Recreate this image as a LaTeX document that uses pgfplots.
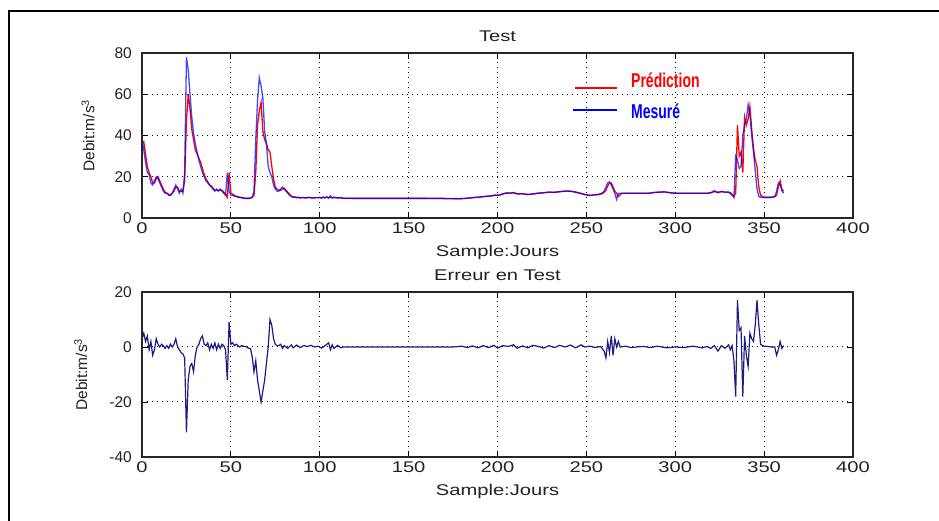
\documentclass[border=0pt]{standalone}
\usepackage{fontspec}
\setmainfont{Liberation Sans}
\newfontfamily\wfont{Liberation Sans}[FakeStretch=1.3]
\newfontfamily\legfont{Liberation Sans}[FakeStretch=0.7]
\usepackage{pgfplots}
\pgfplotsset{compat=1.18}
\definecolor{txt}{HTML}{222222}
\definecolor{errc}{HTML}{1C1C82}

\pgfplotsset{matstyle/.style={
  scale only axis, width=711pt, height=165pt,
  xmin=0, xmax=400, xtick={0,50,...,400},
  tick align=inside, major tick length=6pt,
  xtick pos=both, ytick pos=both, xticklabel pos=bottom, yticklabel pos=left,
  axis line style={line width=1.1pt, black!85},
  tick style={line width=0.9pt, black},
  grid=major, grid style={black, line width=1pt, dash pattern=on 1pt off 4pt},
  /pgf/number format/assume math mode=true,
  xticklabel style={font=\wfont\fontsize{15.5}{18}\selectfont, anchor=base, yshift=-15.5pt, text=txt},
  yticklabel style={font=\fontsize{15.5}{18}\selectfont, anchor=east, inner sep=0pt, xshift=-10pt, text=txt},
  title style={font=\wfont\fontsize{15.5}{18}\selectfont, at={(0.5,1)}, anchor=base, yshift=5.5pt, text=txt},
  xlabel style={font=\wfont\fontsize{15.5}{18}\selectfont, at={(axis description cs:0.5,0)}, anchor=base, yshift=-39pt, text=txt},
  ylabel style={font=\fontsize{15.5}{18}\selectfont, anchor=center, text=txt},
}}

\begin{document}
\begin{tikzpicture}
\useasboundingbox (0,0) rectangle (939pt,521pt);
\draw[line width=2.2pt, black] (9pt,0pt) -- (9pt,510pt) -- (939pt,510pt);

% upper panel: prediction vs measured
\begin{axis}[matstyle, at={(142pt,303pt)}, anchor=south west,
  ymin=0, ymax=80, ytick={0,20,...,80},
  title={Test}, xlabel={Sample:Jours}, ylabel={Debit:m/s\textsuperscript{3}},
  ylabel style={at={(axis description cs:-0.076,0.5)}}]
\addplot[red, line width=1.3pt] coordinates {
(0,36) (1,37) (2,31) (3,25) (4,22) (5,20) (6,17) (7,17) (8,19) (9,20) (10,18) (11,16) (12,14) (13,12.5) (14,12) (15,11.5) (16,11) (17,12) (18,13) (19,15) (20,15) (21,13) (22,13) (23,13) (24,18) (25,47) (26,60) (27,53) (28,43) (29,38) (30,33) (31,31) (32,29) (33,27) (34,24) (35,21) (36,19) (37,17.5) (38,16) (39,15.5) (40,14.5) (41,13.5) (42,13.5) (43,13.5) (44,13.5) (45,13.5) (46,12.5) (47,11.5) (48,10) (49,22) (50,12) (51,11.5) (52,11) (53,10.5) (54,10.3) (55,10) (56,10) (57,9.8) (58,9.6) (59,9.5) (60,9.5) (61,9.6) (62,10) (63,11) (64,22) (65,45) (66,52) (67,56) (68,42) (69,38) (70,36) (71,33) (72,32) (73,25) (74,19) (75,15) (76,14) (77,13.5) (78,13.5) (79,14) (80,14.5) (81,13.5) (82,12.5) (83,11.5) (84,10.5) (85,10.2) (86,10) (88,10) (90,9.8) (94,9.9) (98,9.8) (102,9.9) (106,10) (110,9.8) (113,9.6) (120,9.5) (130,9.5) (140,9.5) (150,9.5) (160,9.5) (170,9.5) (175,9.4) (180,9.4) (184,9.6) (187,9.9) (190,10.1) (193,10.4) (196,10.6) (199,11) (201,11.1) (203,11.6) (205,12) (207,12.1) (209,12.2) (211,11.8) (214,11.7) (217,11.5) (220,11.6) (223,12) (226,12.2) (229,12.5) (232,12.5) (235,12.7) (238,13) (241,13) (243,12.8) (246,12.2) (249,11.5) (252,11) (255,11.2) (257,11.3) (259,11.8) (260,12.5) (261,13.5) (262,15.5) (263,17) (264,17) (265,15) (266,13) (267,12) (268,10.5) (270,12) (280,12) (285,12) (288,12.3) (291,12.5) (294,12.6) (297,12.3) (300,12) (310,12) (318,12) (320,12.2) (322,12.8) (324,12.5) (326,12.7) (328,12.6) (330,12.5) (331,12.3) (332,11.5) (333,10.5) (334,12) (335,45) (336,30) (337,32) (338,22) (339,49) (340,45) (341,48) (342,54) (343,43) (344,34) (345,28) (346,25) (347,15) (348,11) (350,10) (352,10) (354,10) (356,10.3) (357,11) (358,15) (359,18) (360,14) (361,13)};
\addplot[blue, line width=1.3pt, opacity=0.72] coordinates {
(0,38) (1,33) (2,27) (3,22) (4,21) (5,17) (6,16) (7,18) (8,20) (9,19) (10,17) (11,15) (12,13) (13,12) (14,12) (15,11) (16,11) (17,12) (18,14) (19,16) (20,14) (21,12) (22,14) (23,12) (24,22) (25,78) (26,72) (27,60) (28,49) (29,41) (30,36) (31,32) (32,28) (33,25) (34,22) (35,20) (36,18) (37,17) (38,16) (39,15) (40,14) (41,13) (42,14) (43,13) (44,14) (45,13) (46,12) (47,11) (48,22) (49,13) (50,11) (51,11) (52,10.5) (53,10.5) (54,10) (55,10) (56,9.8) (57,9.5) (58,9.5) (59,9.5) (60,9.5) (61,9.8) (62,10) (63,13) (64,38) (65,57) (66,68) (67,64) (68,58) (69,42) (70,36) (71,25) (72,22) (73,20) (74,16) (75,14) (76,13) (77,13) (78,14) (79,15) (80,14) (81,13) (82,12) (83,11) (84,10.5) (85,10) (86,10.3) (87,9.8) (88,10) (89,9.6) (90,10) (92,9.7) (94,10) (96,9.6) (98,9.9) (100,10) (101,9.6) (102,10.2) (103,9.7) (104,10.4) (105,9.5) (106,10.8) (107,9.6) (108,10.1) (110,9.7) (112,10) (113,9.5) (120,9.5) (130,9.5) (140,9.5) (150,9.5) (160,9.5) (170,9.4) (175,9.3) (180,9.4) (184,9.7) (187,10) (190,10.2) (193,10.5) (196,10.7) (199,11.2) (201,11) (203,11.8) (205,12.2) (207,12) (209,12.4) (211,11.6) (214,11.8) (217,11.3) (220,11.7) (223,12.1) (226,12.3) (229,12.6) (232,12.4) (235,12.8) (238,13.1) (241,13) (243,12.6) (246,12) (249,11.3) (252,10.9) (255,11.3) (257,11.5) (259,12.2) (260,13) (261,15) (262,17) (263,17.5) (264,16) (265,14) (266,12) (267,9) (268,12) (270,12) (280,12) (285,12) (288,12.4) (291,12.6) (294,12.7) (297,12.2) (300,12) (310,12) (318,12) (320,12.3) (322,13.2) (324,12.2) (326,13) (328,12.4) (330,12.6) (331,11.8) (332,11) (333,10) (334,30) (335,28) (336,24) (337,25) (338,40) (339,45) (340,48) (341,55) (342,50) (343,40) (344,32) (345,23) (346,14) (347,10.5) (348,10) (350,10) (352,10) (354,10) (356,10.5) (357,13) (358,17) (359,16) (360,13) (361,12)};
\draw[red, line width=1.2pt] (axis cs:243.6,63.0) -- (axis cs:267.2,63.0);
\node[anchor=west, inner sep=0pt, text=red, font=\legfont\bfseries\fontsize{20}{24}\selectfont] at (axis cs:275.1,66.9) {Prédiction};
\draw[blue, line width=1.2pt] (axis cs:242.5,52.4) -- (axis cs:267.2,52.4);
\node[anchor=west, inner sep=0pt, text=blue, font=\legfont\bfseries\fontsize{20}{24}\selectfont] at (axis cs:275.1,51.9) {Mesuré};
\end{axis}

% lower panel: error
\begin{axis}[matstyle, at={(142pt,64pt)}, anchor=south west,
  ymin=-40, ymax=20, ytick={-40,-20,0,20},
  title={Erreur en Test}, xlabel={Sample:Jours}, ylabel={Debit:m/s\textsuperscript{3}},
  ylabel style={at={(axis description cs:-0.086,0.5)}}]
\addplot[errc, line width=1.2pt] coordinates {
(0,3) (1,5) (2,2) (3,4) (4,-1) (5,2) (6,-3) (7,-1) (8,3) (9,1) (10,0) (11,1) (12,0.5) (13,-0.5) (14,0.5) (15,-0.5) (16,1) (17,0) (18,1) (19,3) (20,0) (21,-1) (22,-2) (23,-2.5) (24,-4) (25,-31) (26,-12) (27,-7) (28,-6) (29,-9) (30,-3) (31,0) (32,1) (33,3) (34,4) (35,1) (36,0.5) (37,1.5) (38,-1) (39,1) (40,-0.5) (41,1.5) (42,-1) (43,1) (44,-0.5) (45,1) (46,0.5) (47,-1) (48,-12) (49,9) (50,1) (51,1.5) (52,0.5) (53,1) (54,0.5) (55,0) (56,0.5) (57,0.3) (58,0.2) (59,0) (60,-0.5) (61,-0.5) (62,-3.5) (63,-9) (64,-5) (65,-12) (66,-16) (67,-20) (68,-16) (69,-12) (70,-6) (71,0) (72,10) (73,8) (74,3) (75,1) (76,0.5) (77,0.5) (78,1) (79,-0.5) (80,0.5) (82,-0.5) (84,0.8) (85,-0.3) (87,0.7) (89,-0.2) (91,0.5) (93,0.2) (95,0.6) (97,0) (99,0.3) (101,-0.4) (103,0.5) (105,1.5) (106,-1) (107,0.8) (108,-0.5) (110,0.6) (112,-0.3) (113,0) (120,0) (150,0) (175,0) (180,0.3) (183,-0.2) (186,0.4) (189,-0.3) (192,0.5) (195,-0.2) (198,0.6) (200,-0.4) (203,0.5) (206,0.2) (209,0.8) (211,-0.5) (214,0.4) (217,-0.3) (220,0.6) (223,0.2) (226,-0.4) (229,0.5) (232,-0.2) (235,0.6) (238,0) (241,0.7) (244,-0.3) (247,0.8) (249,0) (252,0.3) (255,-0.2) (258,0.2) (260,-1.5) (261,-4) (262,2) (263,-2) (264,4) (265,-3) (266,3) (267,0) (268,2) (269,0) (272,0.3) (275,-0.2) (278,0) (282,0.2) (286,-0.2) (290,0.3) (295,-0.3) (300,0) (305,-0.2) (310,0.3) (315,-0.3) (318,0.2) (320,-0.5) (322,0.5) (324,-1.5) (326,0.5) (328,-0.5) (330,0.8) (331,-1) (332,0.5) (333,-5) (334,-18) (335,17) (336,6) (337,7) (338,-18) (339,4) (340,-3) (341,-7) (342,5) (343,3) (344,2) (345,8) (346,17) (347,8) (348,1) (349,0.5) (350,0.3) (352,0.2) (354,0) (356,0) (357,-3) (358,-1) (359,2) (360,-0.5) (361,0.5)};
\end{axis}
\end{tikzpicture}
\end{document}
